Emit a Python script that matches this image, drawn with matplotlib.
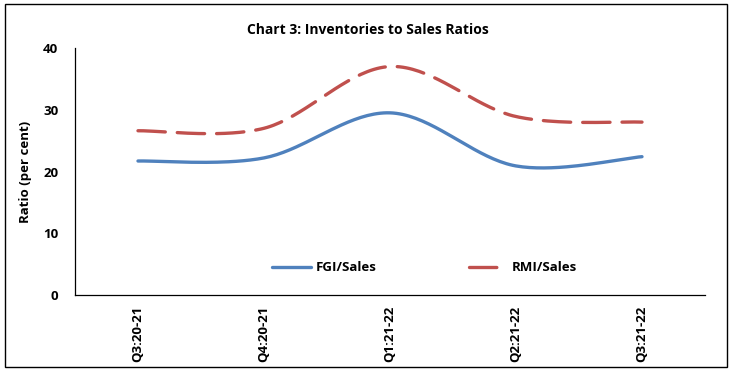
import matplotlib
matplotlib.use("Agg")
import matplotlib.pyplot as plt
import numpy as np
from matplotlib.patches import Rectangle

QUARTERS = ["Q3:20-21", "Q4:20-21", "Q1:21-22", "Q2:21-22", "Q3:21-22"]
FGI_SALES = [21.7, 22.2, 29.5, 20.9, 22.4]
RMI_SALES = [26.6, 27.0, 37.0, 28.9, 28.0]

BLUE = "#4F81BD"
RED = "#C0504D"

plt.rcParams["font.family"] = ["Liberation Sans Narrow", "Open Sans", "DejaVu Sans"]


def excel_smooth(xs, ys, n=40):
    """Bezier smoothing roughly like Excel's smoothed line."""
    pts = np.column_stack([xs, ys]).astype(float)
    ext = np.vstack([pts[0], pts, pts[-1]])
    out = []
    t = np.linspace(0, 1, n)[:, None]
    for i in range(len(pts) - 1):
        p0, p1 = ext[i + 1], ext[i + 2]
        c1 = p0 + (ext[i + 2] - ext[i]) / 6
        c2 = p1 - (ext[i + 3] - ext[i + 1]) / 6
        seg = (1 - t) ** 3 * p0 + 3 * (1 - t) ** 2 * t * c1 + 3 * (1 - t) * t ** 2 * c2 + t ** 3 * p1
        out.append(seg if i == 0 else seg[1:])
    out = np.vstack(out)
    return out[:, 0], out[:, 1]


fig = plt.figure(figsize=(7.33, 3.73), dpi=100)
ax = fig.add_axes([0.1023, 0.2091, 0.8595, 0.6622])

x = np.arange(len(QUARTERS))
fx, fy = excel_smooth(x, FGI_SALES)
rx, ry = excel_smooth(x, RMI_SALES)
ax.plot(fx, fy, color=BLUE, lw=2.4, solid_capstyle="round", label="FGI/Sales")
ax.plot(rx, ry, color=RED, lw=2.4, dashes=(8.2, 3.6), dash_capstyle="round", label="RMI/Sales")

ax.set_xlim(-0.5, len(QUARTERS) - 0.5)
ax.set_ylim(0, 40)
ax.set_yticks([0, 10, 20, 30, 40])
ax.set_xticks(x)
ax.set_xticklabels(QUARTERS, rotation=90, fontsize=9.5, fontweight="bold")
for lab in ax.get_yticklabels():
    lab.set_fontsize(9.5)
    lab.set_fontweight("bold")
ax.tick_params(axis="both", length=0, pad=8)
ax.tick_params(axis="y", pad=12)
for s in ["top", "right"]:
    ax.spines[s].set_visible(False)
ax.spines["left"].set_linewidth(0.9)
ax.spines["bottom"].set_linewidth(0.9)
ax.set_ylabel("Ratio (per cent)", fontsize=9.5, fontweight="bold", labelpad=8)

ax.legend(loc="center", bbox_to_anchor=(0.555, 0.11), ncol=2, frameon=False,
          prop={"size": 9.5, "weight": "bold"}, handlelength=3.0,
          columnspacing=7.0, handletextpad=0.3)

fig.text(0.502, 0.92, "Chart 3: Inventories to Sales Ratios", ha="center", va="center",
         fontsize=10, fontweight="bold")

fig.patches.append(Rectangle((0.007, 0.016), 0.985, 0.972, transform=fig.transFigure,
                             fill=False, edgecolor="black", linewidth=1.0))

fig.savefig("out.png", dpi=100)
